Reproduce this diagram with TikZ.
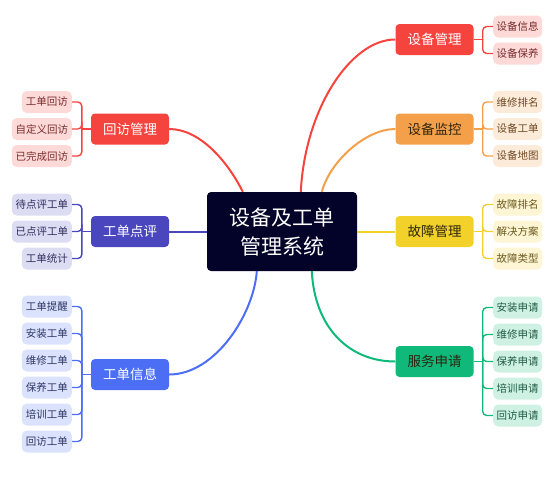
\documentclass[tikz,border=0pt]{standalone}
\usepackage{fontspec}
\setmainfont{Noto Sans CJK SC}
\usetikzlibrary{calc}
\definecolor{cnavy}{HTML}{03032A}
\definecolor{cred}{HTML}{F5433E}
\definecolor{corange}{HTML}{F4A04A}
\definecolor{cyellow}{HTML}{F2D22A}
\definecolor{cgreen}{HTML}{10B97A}
\definecolor{cindigo}{HTML}{4A46BD}
\definecolor{cblue}{HTML}{4C6EF5}
\definecolor{lred}{HTML}{FDD9D7}
\definecolor{lorange}{HTML}{FDEBD9}
\definecolor{lyellow}{HTML}{FDF5D3}
\definecolor{lgreen}{HTML}{CFF1E4}
\definecolor{lindigo}{HTML}{DCDCF3}
\definecolor{lblue}{HTML}{DBE2FD}
\definecolor{tred}{HTML}{7A2E2E}
\definecolor{torange}{HTML}{6E4A26}
\definecolor{tyellow}{HTML}{6B5A1E}
\definecolor{tgreen}{HTML}{1E5A44}
\definecolor{tindigo}{HTML}{2E2E5E}
\definecolor{tblue}{HTML}{2E3766}
\definecolor{tdark}{HTML}{2E2410}
\begin{document}
\begin{tikzpicture}[x=1pt,y=-1pt,
  rootbox/.style={fill=cnavy, text=white, rounded corners=4pt, minimum width=150pt, minimum height=79pt, inner sep=0pt, align=center, font=\fontsize{21}{29}\selectfont},
  branchbox/.style={rounded corners=4pt, minimum width=78pt, minimum height=31pt, inner sep=0pt, font=\fontsize{13.5}{16}\selectfont},
  leafbox/.style={rounded corners=5pt, minimum height=22pt, inner sep=0pt, font=\fontsize{10.5}{12}\selectfont},
  leafL/.style={leafbox, anchor=east},
  leafR/.style={leafbox, anchor=west, minimum width=49pt},
  mainline/.style={line width=2pt},
  brk/.style={line width=1.4pt, rounded corners=4pt}]
\useasboundingbox (0,0) rectangle (552,499);

% root
\node[rootbox] (root) at (282,231.5) {设备及工单\\管理系统};

% branches
\node[branchbox, fill=cred, text=white] (dm) at (434.5,39.5) {设备管理};
\node[branchbox, fill=corange, text=tdark] (jk) at (434.5,129) {设备监控};
\node[branchbox, fill=cyellow, text=tdark] (gz) at (434.5,231.5) {故障管理};
\node[branchbox, fill=cgreen, text=tdark] (fw) at (434.5,361.5) {服务申请};
\node[branchbox, fill=cred, text=white] (hf) at (130,129) {回访管理};
\node[branchbox, fill=cindigo, text=white] (dp) at (130,231.5) {工单点评};
\node[branchbox, fill=cblue, text=white] (xx) at (130,374.5) {工单信息};

% main connectors
\draw[mainline, cred] (hf.east) .. controls +(31,0) and +(-15,-30) .. ([xshift=36pt]root.north west);
\draw[mainline, cred] (dm.west) .. controls +(-45,0) and +(4,-82) .. ([xshift=94pt]root.north west);
\draw[mainline, corange] (jk.west) .. controls +(-30,0) and +(8,-30) .. ([xshift=115pt]root.north west);
\draw[mainline, cindigo] (dp.east) -- (dp.east -| root.west);
\draw[mainline, cyellow] (gz.west) -- (gz.west -| root.east);
\draw[mainline, cblue] (xx.east) .. controls +(46,0) and +(-3,43) .. ([xshift=50pt]root.south west);
\draw[mainline, cgreen] (fw.west) .. controls +(-45,0) and +(3,58) .. ([xshift=105pt]root.south west);

% right groups
\draw[brk, cred] (dm.east) -- ++(9,0) coordinate (dmj);
\foreach \t/\y [count=\i] in {设备信息/26.5, 设备保养/53.5}{
  \node[leafR, fill=lred, text=tred] (dm\i) at (493,\y) {\t};
  \draw[brk, cred] (dmj) |- (dm\i.west);
}
\draw[brk, corange] (jk.east) -- ++(9,0) coordinate (jkj);
\foreach \t/\y [count=\i] in {维修排名/102, 设备工单/129, 设备地图/156}{
  \node[leafR, fill=lorange, text=torange] (jk\i) at (493,\y) {\t};
  \draw[brk, corange] (jkj) |- (jk\i.west);
}
\draw[brk, cyellow] (gz.east) -- ++(9,0) coordinate (gzj);
\foreach \t/\y [count=\i] in {故障排名/204.5, 解决方案/231.5, 故障类型/258.5}{
  \node[leafR, fill=lyellow, text=tyellow] (gz\i) at (493,\y) {\t};
  \draw[brk, cyellow] (gzj) |- (gz\i.west);
}
\draw[brk, cgreen] (fw.east) -- ++(9,0) coordinate (fwj);
\foreach \t/\y [count=\i] in {安装申请/307.5, 维修申请/334.5, 保养申请/361.5, 培训申请/388.5, 回访申请/415.5}{
  \node[leafR, fill=lgreen, text=tgreen] (fw\i) at (493,\y) {\t};
  \draw[brk, cgreen] (fwj) |- (fw\i.west);
}

% left groups
\draw[brk, cred] (hf.west) -- ++(-9,0) coordinate (hfj);
\foreach \t/\y/\w [count=\i] in {工单回访/102/50, 自定义回访/129/60, 已完成回访/156/60}{
  \node[leafL, minimum width=\w pt, fill=lred, text=tred] (hf\i) at (72,\y) {\t};
  \draw[brk, cred] (hfj) |- (hf\i.east);
}
\draw[brk, cindigo] (dp.west) -- ++(-9,0) coordinate (dpj);
\foreach \t/\y/\w [count=\i] in {待点评工单/204.5/60, 已点评工单/231.5/60, 工单统计/258.5/50}{
  \node[leafL, minimum width=\w pt, fill=lindigo, text=tindigo] (dp\i) at (72,\y) {\t};
  \draw[brk, cindigo] (dpj) |- (dp\i.east);
}
\draw[brk, cblue] (xx.west) -- ++(-9,0) coordinate (xxj);
\foreach \t/\y [count=\i] in {工单提醒/306.5, 安装工单/333.5, 维修工单/360.5, 保养工单/387.5, 培训工单/414.5, 回访工单/441.5}{
  \node[leafL, minimum width=50pt, fill=lblue, text=tblue] (xx\i) at (72,\y) {\t};
  \draw[brk, cblue] (xxj) |- (xx\i.east);
}
\end{tikzpicture}
\end{document}
